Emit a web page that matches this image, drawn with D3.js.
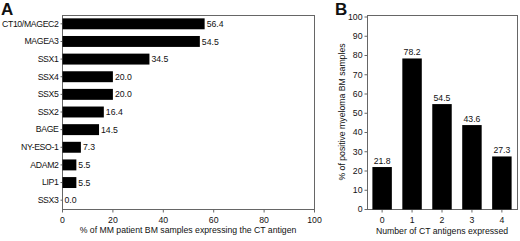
<!DOCTYPE html>
<html>
<head>
<meta charset="utf-8">
<script src="https://cdn.jsdelivr.net/npm/d3@7"></script>
<style>
  body { margin: 0; background: #fff; }
  text { font-family: "Liberation Sans", Arial, sans-serif; fill: #111; }
  .frame { fill: none; stroke: #666; stroke-width: 1; }
  .axis path, .axis line { stroke: #666; }
</style>
</head>
<body>
<div id="chart"></div>
<script>
// panel A data
var antigens = ["CT10/MAGEC2", "MAGEA3", "SSX1", "SSX4", "SSX5", "SSX2", "BAGE", "NY-ESO-1", "ADAM2", "LIP1", "SSX3"];
var antigenPct = [56.4, 54.5, 34.5, 20.0, 20.0, 16.4, 14.5, 7.3, 5.5, 5.5, 0.0];
var xTicksA = [0, 20, 40, 60, 80, 100];

// panel B data
var countLabels = ["0", "1", "2", "3", "4"];
var countPct = [21.8, 78.2, 54.5, 43.6, 27.3];
var yTicksB = [0, 10, 20, 30, 40, 50, 60, 70, 80, 90, 100];

var svg = d3.select("#chart").append("svg")
  .attr("width", 520)
  .attr("height", 241);

var fs = 8.7;

// ############ panel A ##############
var a = { left: 62, right: 314, top: 15, bottom: 209 };

var xA = d3.scaleLinear().domain([0, 100]).range([a.left, a.right]);
var yA = d3.scaleBand().domain(antigens).range([a.top, a.bottom]).paddingInner(0.38).paddingOuter(0.19);

var gA = svg.append("g");

gA.append("rect").attr("class", "frame")
  .attr("x", a.left + 0.5).attr("y", a.top + 0.5)
  .attr("width", a.right - a.left).attr("height", a.bottom - a.top);

gA.append("g").attr("class", "axis")
  .attr("transform", "translate(0," + (a.bottom + 0.5) + ")")
  .call(d3.axisBottom(xA).tickValues(xTicksA).tickSize(3).tickPadding(4))
  .call(g => g.select(".domain").remove())
  .selectAll("text").attr("font-size", fs).attr("fill", "#111");

// category labels are a bit condensed in the original
gA.append("g").attr("class", "axis")
  .attr("transform", "translate(" + (a.left + 0.5) + ",0)")
  .call(d3.axisLeft(yA).tickSize(2).tickPadding(2))
  .call(g => g.select(".domain").remove())
  .selectAll("text").attr("font-size", fs).attr("fill", "#111")
  .attr("letter-spacing", "-0.35px");

var rowsA = antigens.map((d, i) => ({ name: d, v: antigenPct[i] }));

gA.selectAll(".barA").data(rowsA).enter().append("rect")
  .attr("class", "barA")
  .attr("x", a.left + 0.5)
  .attr("y", d => yA(d.name))
  .attr("width", d => xA(d.v) - a.left)
  .attr("height", yA.bandwidth())
  .attr("fill", "#000");

gA.selectAll(".valA").data(rowsA).enter().append("text")
  .attr("class", "valA")
  .attr("x", d => xA(d.v) + 2.5)
  .attr("y", d => yA(d.name) + yA.bandwidth() / 2)
  .attr("dy", "0.36em")
  .attr("font-size", fs)
  .text(d => d.v.toFixed(1));

gA.append("text")
  .attr("x", 188).attr("y", 233)
  .attr("text-anchor", "middle").attr("font-size", fs)
  .text("% of MM patient BM samples expressing the CT antigen");

gA.append("text")
  .attr("x", 1).attr("y", 15)
  .attr("font-size", 17).attr("font-weight", "bold")
  .text("A");

// ############ panel B ##############
var b = { left: 367, right: 517, top: 15, bottom: 209 };

var xB = d3.scaleBand().domain(countLabels).range([b.left, b.right]).paddingInner(0.35).paddingOuter(0.18);
var yB = d3.scaleLinear().domain([0, 100]).range([b.bottom, 16.5]);

var gB = svg.append("g");

gB.append("rect").attr("class", "frame")
  .attr("x", b.left + 0.5).attr("y", b.top + 0.5)
  .attr("width", b.right - b.left).attr("height", b.bottom - b.top);

gB.append("g").attr("class", "axis")
  .attr("transform", "translate(" + (b.left + 0.5) + ",0)")
  .call(d3.axisLeft(yB).tickValues(yTicksB).tickSize(3).tickPadding(2))
  .call(g => g.select(".domain").remove())
  .selectAll("text").attr("font-size", fs).attr("fill", "#111");

gB.append("g").attr("class", "axis")
  .attr("transform", "translate(0," + (b.bottom + 0.5) + ")")
  .call(d3.axisBottom(xB).tickSize(3).tickPadding(4))
  .call(g => g.select(".domain").remove())
  .selectAll("text").attr("font-size", fs).attr("fill", "#111");

var rowsB = countLabels.map((d, i) => ({ name: d, v: countPct[i] }));

gB.selectAll(".barB").data(rowsB).enter().append("rect")
  .attr("class", "barB")
  .attr("x", d => xB(d.name))
  .attr("y", d => yB(d.v))
  .attr("width", xB.bandwidth())
  .attr("height", d => b.bottom + 0.5 - yB(d.v))
  .attr("fill", "#000");

gB.selectAll(".valB").data(rowsB).enter().append("text")
  .attr("class", "valB")
  .attr("x", d => xB(d.name) + xB.bandwidth() / 2)
  .attr("y", d => yB(d.v) - 3)
  .attr("text-anchor", "middle")
  .attr("font-size", fs)
  .text(d => d.v.toFixed(1));

gB.append("text")
  .attr("x", 442).attr("y", 234)
  .attr("text-anchor", "middle").attr("font-size", fs)
  .text("Number of CT antigens expressed");

gB.append("text")
  .attr("transform", "translate(345," + ((b.top + b.bottom) / 2) + ") rotate(-90)")
  .attr("text-anchor", "middle").attr("font-size", fs)
  .text("% of positive myeloma BM samples");

gB.append("text")
  .attr("x", 335).attr("y", 15)
  .attr("font-size", 17).attr("font-weight", "bold")
  .text("B");
</script>
</body>
</html>
